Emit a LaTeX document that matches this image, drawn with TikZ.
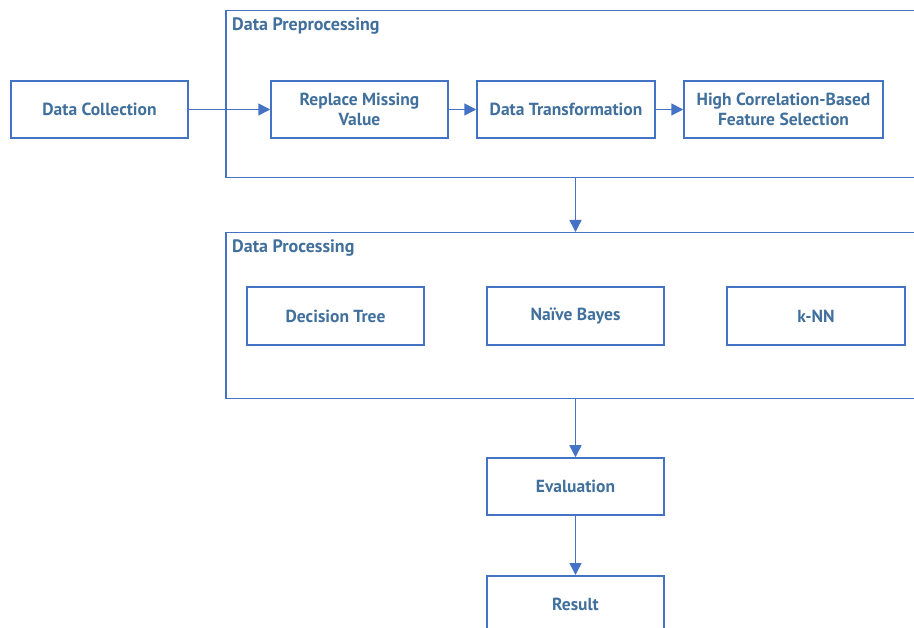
\documentclass[tikz,border=0pt]{standalone}
\usepackage{fontspec}
\setmainfont{PT Sans}
\usetikzlibrary{arrows.meta}
\definecolor{lineblue}{HTML}{4472C4}
\definecolor{textblue}{HTML}{41709C}
\begin{document}
\begin{tikzpicture}[x=1pt,y=-1pt,
  box/.style={draw=lineblue,line width=1.5pt,fill=white,inner sep=0pt,align=center,
    font=\fontsize{17.5}{20}\selectfont\bfseries,text=textblue},
  cont/.style={draw=lineblue,line width=1.5pt,inner sep=0pt},
  title/.style={anchor=west,inner sep=0pt,font=\fontsize{18}{20}\selectfont\bfseries,text=textblue},
  arr/.style={draw=lineblue,line width=1.5pt,-{Triangle[length=12pt,width=12pt]}}]
\useasboundingbox (0,0) rectangle (914,628);
\clip (0,0) rectangle (914,628);
% containers
\node[cont,minimum width=720pt,minimum height=167pt,anchor=north west] (pre) at (225,10) {};
\node[cont,minimum width=720pt,minimum height=166pt,anchor=north west] (proc) at (225,232) {};
\node[title] (pret) at (232,26) {Data Preprocessing};
\node[title] (proct) at (232,248) {Data Processing};
% boxes
\node[box,minimum width=177pt,minimum height=57pt] (dc) at (99.5,109.5) {Data Collection};
\node[box,minimum width=177pt,minimum height=57pt] (rm) at (359.5,109.5) {Replace Missing\\Value};
\node[box,minimum width=178pt,minimum height=57pt] (dt) at (566,109.5) {Data Transformation};
\node[box,minimum width=199pt,minimum height=57pt] (hc) at (783.5,109.5) {High Correlation-Based\\Feature Selection};
\node[box,minimum width=177pt,minimum height=58pt] (tree) at (335.5,316) {Decision Tree};
\node[box,minimum width=177pt,minimum height=58pt] (nb) at (575.5,316) {Naïve Bayes};
\node[box,minimum width=178pt,minimum height=58pt] (knn) at (816,316) {k-NN};
\node[box,minimum width=177pt,minimum height=57pt] (ev) at (575.5,486.5) {Evaluation};
\node[box,minimum width=177pt,minimum height=70pt,anchor=north] (res) at (575.5,575) {};
\node[text=textblue,font=\fontsize{17.5}{20}\selectfont\bfseries] (rest) at (575.5,604) {Result};
% arrows
\draw[arr] (dc.east) -- (rm.west);
\draw[arr] (rm.east) -- (dt.west);
\draw[arr] (dt.east) -- (hc.west);
\draw[arr] (pre.south -| ev.north) -- (proc.north -| ev.north);
\draw[arr] (proc.south -| ev.north) -- (ev.north);
\draw[arr] (ev.south) -- (res.north);
\end{tikzpicture}
\end{document}
